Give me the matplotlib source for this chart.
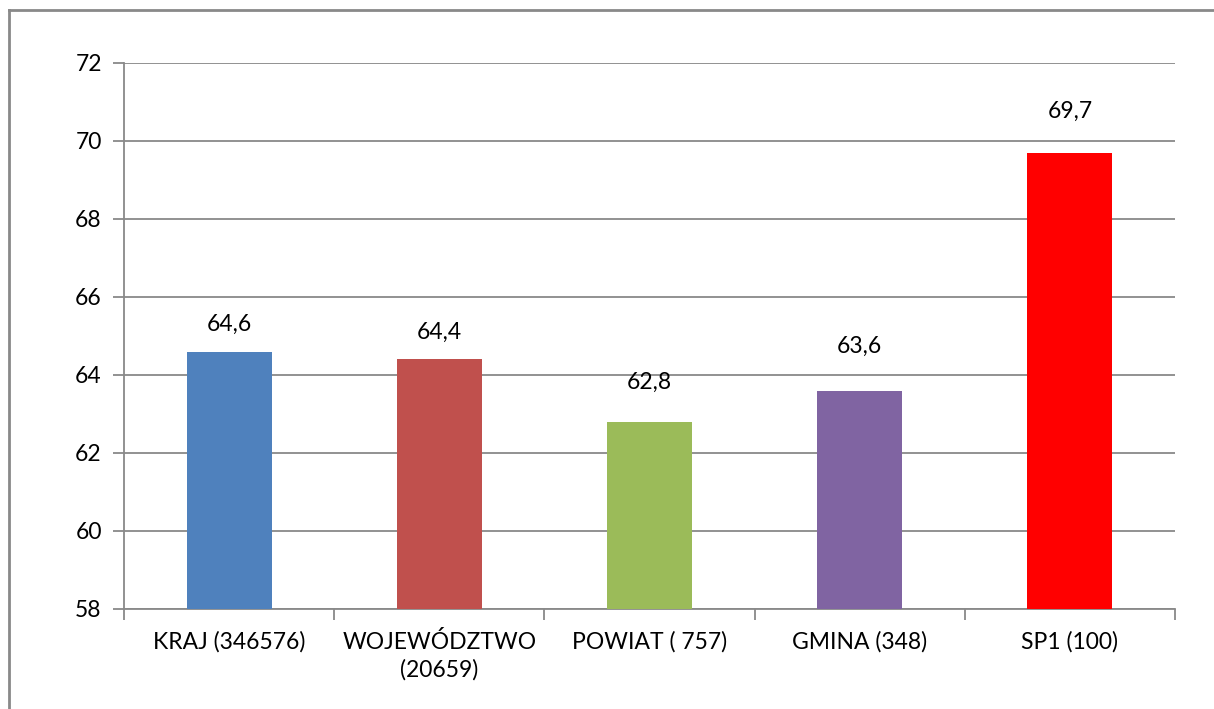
import matplotlib.pyplot as plt
from matplotlib.lines import Line2D

categories = ["KRAJ (346576)", "WOJEWÓDZTWO\n(20659)", "POWIAT ( 757)", "GMINA (348)", "SP1 (100)"]
values = [64.6, 64.4, 62.8, 63.6, 69.7]
value_labels = ["64,6", "64,4", "62,8", "63,6", "69,7"]
colors = ["#4F81BD", "#C0504D", "#9BBB59", "#8064A2", "#FF0000"]
y_ticks = [58, 60, 62, 64, 66, 68, 70, 72]
base = 58

# gap (points) between bar top and its value label, as placed in the original
label_pad = [12, 12, 21, 24, 22]

plt.rcParams["font.family"] = ["Lato", "DejaVu Sans"]

W, H = 1214, 709
fig = plt.figure(figsize=(W / 100, H / 100), dpi=100)

# outer chart border: only top and left edges show, the rest runs off the image
border = dict(color="#898989", linewidth=2, transform=fig.transFigure)
fig.lines.append(Line2D([9 / W, 1.0], [(H - 10) / H] * 2, **border))
fig.lines.append(Line2D([9 / W] * 2, [0.0, (H - 10) / H], **border))

ax = fig.add_axes([124 / W, (H - 609) / H, 1051 / W, 546 / H])
x = list(range(len(categories)))
ax.bar(x, [v - base for v in values], width=0.405, bottom=base, color=colors, zorder=3)
ax.set_ylim(58, 72)
ax.set_xlim(-0.5, len(categories) - 0.5)
ax.set_yticks(y_ticks)
ax.set_yticklabels([str(t) for t in y_ticks], fontsize=16.5)
ax.grid(axis="y", color="#898989", linewidth=1.3, zorder=0)

for xi, v, lab, pad in zip(x, values, value_labels, label_pad):
    ax.annotate(lab, (xi, v), xytext=(0, pad), textcoords="offset points",
                ha="center", va="bottom", fontsize=16.5, zorder=4)

# category tick marks between groups
ax.set_xticks([i - 0.5 for i in range(len(categories) + 1)], minor=False)
ax.set_xticklabels([])
ax.set_xticks(x, minor=True)
ax.set_xticklabels(categories, minor=True, fontsize=16.5, linespacing=1.35)
ax.tick_params(axis="x", which="minor", length=0, pad=16)
ax.tick_params(axis="x", which="major", length=8, color="#898989", width=1.3)
ax.tick_params(axis="y", length=8, color="#898989", width=1.3, pad=8)

for side in ["top", "right"]:
    ax.spines[side].set_visible(False)
for side in ["left", "bottom"]:
    ax.spines[side].set_color("#898989")
    ax.spines[side].set_linewidth(1.3)

fig.savefig("out.png", dpi=100)
